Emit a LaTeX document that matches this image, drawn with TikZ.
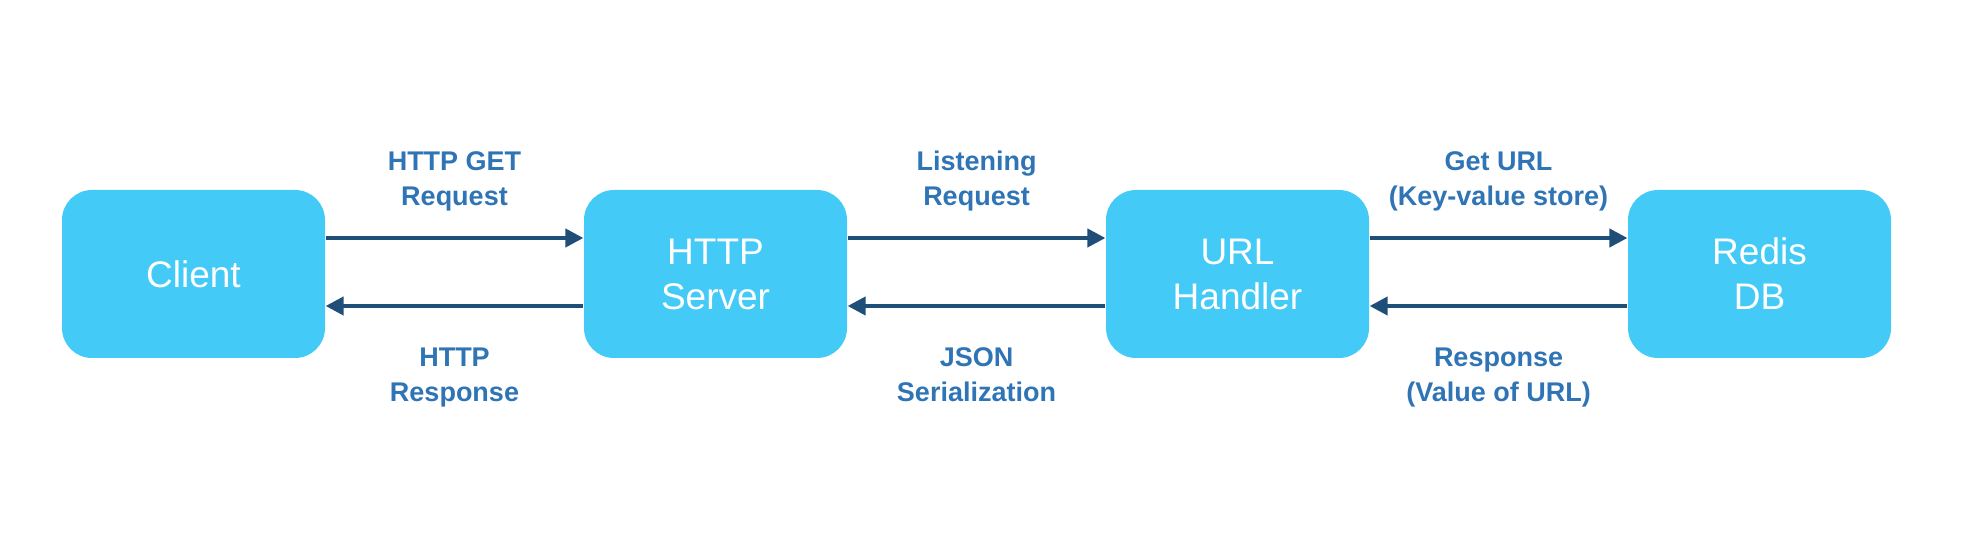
\documentclass[tikz,border=0pt]{standalone}
\usepackage{fontspec}
\setmainfont{Liberation Sans}
\usetikzlibrary{arrows.meta}
\definecolor{boxblue}{HTML}{44CAF7}
\definecolor{labelblue}{HTML}{2F74B5}
\definecolor{linkblue}{HTML}{1F4E79}

\begin{document}
\begin{tikzpicture}[->,>={Triangle[length=9pt,width=9pt]},node distance=261pt,
	semithick]
	\tikzstyle{block}=[rectangle,rounded corners=15pt,fill=boxblue,text=white,
		minimum width=131.5pt,minimum height=84pt,inner sep=0pt,align=center,
		font=\fontsize{18.5}{22.5}\selectfont]
	\tikzstyle{every edge}=[draw=linkblue,line width=2pt]
	\tikzstyle{lbl}=[text=labelblue,inner sep=0pt,align=center,
		font=\fontsize{13.5}{17.5}\selectfont\bfseries]

	\useasboundingbox (0,0) rectangle (984pt,273pt);

	\node[block]                 (client)                    at (96.75pt,136pt) {Client};
	\node[block]                 (server)  [right of=client]  {HTTP\\Server};
	\node[block]                 (handler) [right of=server]  {URL\\Handler};
	\node[block]                 (redis)   [right of=handler] {Redis\\DB};

	\path
	([yshift=18pt]client.east)  edge node[lbl,above=12.5pt] {HTTP GET\\Request} ([yshift=18pt]server.west)
	([yshift=-16pt]server.west) edge node[lbl,below=20pt] {HTTP\\Response} ([yshift=-16pt]client.east)
	([yshift=18pt]server.east)  edge node[lbl,above=12.5pt] {Listening\\Request} ([yshift=18pt]handler.west)
	([yshift=-16pt]handler.west) edge node[lbl,below=20pt] {JSON\\Serialization} ([yshift=-16pt]server.east)
	([yshift=18pt]handler.east) edge node[lbl,above=12.5pt] {Get URL\\(Key-value store)} ([yshift=18pt]redis.west)
	([yshift=-16pt]redis.west)  edge node[lbl,below=20pt] {Response\\(Value of URL)} ([yshift=-16pt]handler.east);

\end{tikzpicture}
\end{document}
